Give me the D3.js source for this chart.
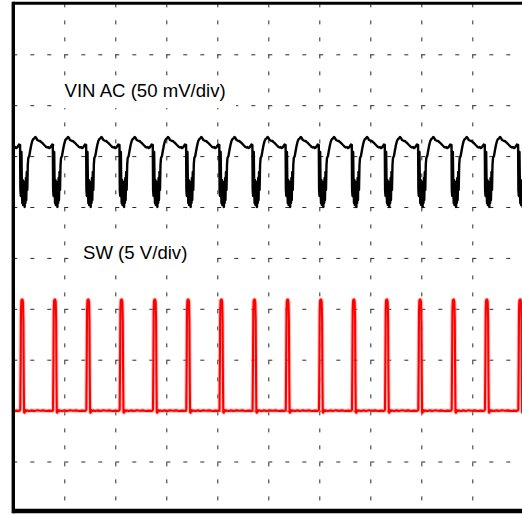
<!DOCTYPE html>
<html>
<head>
<meta charset="utf-8">
<script src="https://cdn.jsdelivr.net/npm/d3@7/dist/d3.min.js"></script>
<style>
  html, body { margin: 0; padding: 0; background: #fff; }
  svg { display: block; }
</style>
</head>
<body>
<svg id="chart" width="522" height="514"></svg>
<script>
// Screen: 10 x 10 divisions. Time axis in divisions.
const divisions = [0, 1, 2, 3, 4, 5, 6, 7, 8, 9, 10];

// Switching instants (centre of each SW pulse), in divisions
const pulseTimes = [-0.475, 0.176, 0.818, 1.471, 2.125, 2.778, 3.431, 4.082, 4.731,
                    5.382, 6.033, 6.680, 7.327, 7.980, 8.635, 9.288, 9.941];

// VIN AC ripple over one switching cycle: time offset from pulse (div), value (mV)
const vinOffset = [-0.043, -0.037, -0.029, -0.024, -0.016, -0.008, 0.000, 0.008, 0.016, 0.024,
                   0.031, 0.039, 0.047, 0.055, 0.063, 0.071, 0.078, 0.088, 0.098, 0.108,
                   0.118, 0.137, 0.157, 0.176, 0.196, 0.216, 0.235, 0.255, 0.275, 0.294,
                   0.314, 0.333, 0.353, 0.373, 0.392, 0.412, 0.431, 0.451, 0.471, 0.490,
                   0.510, 0.529, 0.549, 0.569, 0.588, 0.606];
const vinMilliVolts = [10.9, -33.3, -39.2, -3.8, 4.0, -28.4, -46.1, -23.5, -48.0, -31.3,
                       -47.1, -25.4, -50.0, -33.3, -46.1, -21.5, -43.1, -15.6, -33.3, -8.7,
                       -1.9, 0.1, 6.0, 10.9, 14.8, 16.8, 17.3, 18.8, 17.8, 15.8,
                       15.3, 14.8, 14.8, 13.8, 12.9, 11.9, 10.9, 9.9, 8.9, 8.4,
                       8.9, 7.9, 8.4, 9.9, 11.4, 10.9];

// SW node over one switching cycle: time offset from pulse (div), value (V)
const swOffset = [-0.049, -0.039, -0.031, -0.025, -0.018, -0.008, 0.004, 0.014, 0.022, 0.029,
                  0.035, 0.045, 0.059, 0.078, 0.098, 0.137, 0.176, 0.235, 0.294, 0.353,
                  0.412, 0.471, 0.529, 0.588, 0.602];
const swVolts = [0.0, 0.1, 5.0, 9.9, 10.8, 10.9, 10.9, 10.7, 8.9, 3.0,
                 -0.15, -0.2, 0.05, -0.05, 0.02, -0.05, 0.02, -0.03, 0.03, -0.02,
                 0.02, -0.04, 0.0, -0.03, 0.0];

const vinLabel = "VIN AC (50 mV/div)";
const swLabel = "SW (5 V/div)";

// ---- Build traces ----
const vinTrace = [];
const swTrace = [];
pulseTimes.forEach(p => {
  vinOffset.forEach((dt, i) => vinTrace.push({ t: p + dt, v: vinMilliVolts[i] }));
  swOffset.forEach((dt, i) => swTrace.push({ t: p + dt, v: swVolts[i] }));
});

// ---- Layout ----
const svg = d3.select("#chart");
const pLeft = 13.3, pRight = 523.3, pTop = 3.4, pBottom = 512.4;

const x = d3.scaleLinear().domain([0, 10]).range([pLeft, pRight]);
const yDiv = d3.scaleLinear().domain([0, 10]).range([pBottom, pTop]);
// VIN: 50 mV/div, 0 mV at division 7
const yVin = d3.scaleLinear().domain([-350, 150]).range([pBottom, pTop]);
// SW: 5 V/div, 0 V at division 2
const ySw = d3.scaleLinear().domain([-10, 40]).range([pBottom, pTop]);

// ---- Grid (dashed, via axes) ----
const dashArray = "4," + ((x(1) - x(0)) / 3 - 4);
const gx = svg.append("g")
  .attr("transform", `translate(0,${pTop})`)
  .call(d3.axisTop(x).tickValues(divisions.slice(1, 10)).tickSize(-(pBottom - pTop)).tickFormat(""));
const gy = svg.append("g")
  .attr("transform", `translate(${pLeft},0)`)
  .call(d3.axisLeft(yDiv).tickValues(divisions.slice(1, 10)).tickSize(-(pRight - pLeft)).tickFormat(""));
[gx, gy].forEach(g => {
  g.select(".domain").remove();
  g.selectAll(".tick line")
    .attr("stroke", "#2a2a2a")
    .attr("stroke-width", 1)
    .attr("stroke-dasharray", dashArray);
});

// ---- Labels (opaque background hides the grid behind them) ----
const font = "'Liberation Sans', Arial, Helvetica, sans-serif";
svg.append("rect").attr("x", 60).attr("y", 77).attr("width", 176).attr("height", 31).attr("fill", "#fff");
svg.append("rect").attr("x", 72).attr("y", 234).attr("width", 140).attr("height", 37).attr("fill", "#fff");
svg.append("text").attr("x", 64.5).attr("y", 97.3)
  .attr("font-family", font).attr("font-size", 18.6).attr("fill", "#000")
  .text(vinLabel);
svg.append("text").attr("x", 83).attr("y", 259.3)
  .attr("font-family", font).attr("font-size", 18.6).attr("fill", "#000")
  .text(swLabel);

// ---- Traces ----
svg.append("clipPath").attr("id", "plotClip")
  .append("rect").attr("x", pLeft).attr("y", pTop)
  .attr("width", pRight - pLeft).attr("height", pBottom - pTop);

const plot = svg.append("g").attr("clip-path", "url(#plotClip)");

const vinLine = d3.line().x(d => x(d.t)).y(d => yVin(d.v));
const swLine = d3.line().x(d => x(d.t)).y(d => ySw(d.v));

plot.append("path").datum(swTrace)
  .attr("d", swLine)
  .attr("fill", "none")
  .attr("stroke", "#ff7a7a")
  .attr("stroke-opacity", 0.45)
  .attr("stroke-width", 4.2)
  .attr("stroke-linejoin", "round");
plot.append("path").datum(swTrace)
  .attr("d", swLine)
  .attr("fill", "none")
  .attr("stroke", "#ff0000")
  .attr("stroke-width", 2.1)
  .attr("stroke-linejoin", "round");

plot.append("path").datum(vinTrace)
  .attr("d", vinLine)
  .attr("fill", "none")
  .attr("stroke", "#000")
  .attr("stroke-width", 2.4)
  .attr("stroke-linejoin", "round");

// ---- Frame ----
svg.append("line").attr("x1", pLeft).attr("x2", pRight).attr("y1", 3.2).attr("y2", 3.2)
  .attr("stroke", "#000").attr("stroke-width", 3);
svg.append("line").attr("x1", pLeft).attr("x2", pRight).attr("y1", 511).attr("y2", 511)
  .attr("stroke", "#000").attr("stroke-width", 4.4);
svg.append("line").attr("x1", pLeft).attr("x2", pLeft).attr("y1", 1.7).attr("y2", 513.2)
  .attr("stroke", "#000").attr("stroke-width", 3.4);
</script>
</body>
</html>
